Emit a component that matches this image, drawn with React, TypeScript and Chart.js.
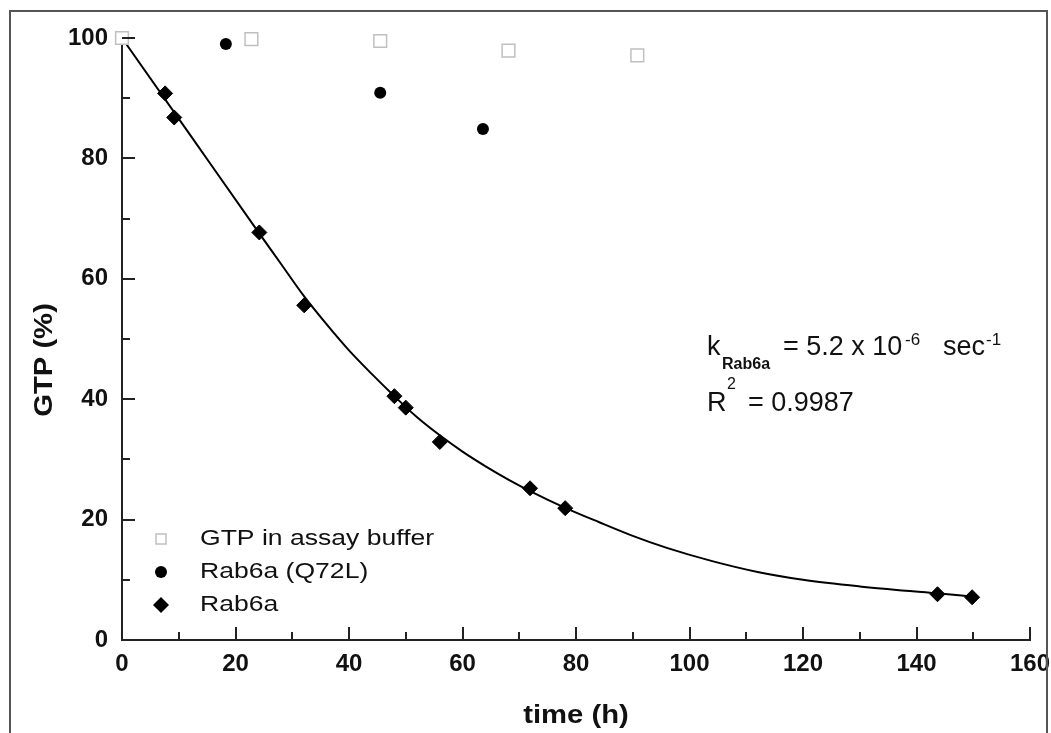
import React, { useEffect, useRef } from 'react';
import { Chart, registerables } from 'chart.js';

Chart.register(...registerables);

// ---- data ----
const bufferT = [0, 22.8, 45.5, 68.1, 90.8];
const bufferY = [100, 99.8, 99.5, 97.9, 97.1];

const q72lT = [18.3, 45.5, 63.6];
const q72lY = [99.0, 90.9, 84.9];

const rab6aT = [7.6, 9.2, 24.2, 32.1, 48.0, 50.0, 56.0, 71.9, 78.1, 143.7, 149.8];
const rab6aY = [90.8, 86.8, 67.7, 55.6, 40.5, 38.6, 32.9, 25.2, 21.9, 7.6, 7.1];

// fitted curve
const fitT = [0, 12, 24, 28, 32, 36, 40, 44, 48, 52, 56, 60, 64, 68, 72, 78, 84, 90, 96, 104, 112, 120, 130, 143.6, 150];
const fitY = [100, 83.9, 67.8, 62.5, 57.2, 52.5, 48.1, 44.2, 40.5, 37.0, 34.0, 31.3, 28.9, 26.7, 24.7, 22.0, 19.6, 17.3, 15.3, 13.1, 11.3, 10.0, 8.9, 7.75, 7.2];

const legendLabels = ['GTP in assay buffer', 'Rab6a (Q72L)', 'Rab6a'];
const xTitle = 'time (h)';
const yTitle = 'GTP (%)';
const xTicks = { min: 0, max: 160, step: 20, minor: 10 };
const yTicks = { min: 0, max: 100, step: 20, minor: 10 };

const FONT = '"Liberation Sans", Arial, Helvetica, sans-serif';

function pts(t: number[], y: number[]) {
  return t.map((v, i) => ({ x: v, y: y[i] }));
}

function drawText(
  ctx: CanvasRenderingContext2D,
  s: string,
  x: number,
  y: number,
  font: string,
  align: CanvasTextAlign = 'left',
  baseline: CanvasTextBaseline = 'alphabetic',
  sx = 1,
  rot = 0
) {
  ctx.save();
  ctx.translate(x, y);
  if (rot) ctx.rotate(rot);
  ctx.scale(sx, 1);
  ctx.font = font;
  ctx.textAlign = align;
  ctx.textBaseline = baseline;
  ctx.fillStyle = '#111';
  ctx.fillText(s, 0, 0);
  ctx.restore();
}

export default function App() {
  const ref = useRef<HTMLCanvasElement>(null);

  useEffect(() => {
    const canvas = ref.current!;
    const decor = {
      id: 'decor',
      afterDraw(chart: any) {
        const ctx: CanvasRenderingContext2D = chart.ctx;
        const xs = chart.scales.x;
        const ys = chart.scales.y;
        const area = chart.chartArea;
        ctx.save();
        // outer frame
        ctx.strokeStyle = '#555';
        ctx.lineWidth = 2;
        ctx.strokeRect(10, 11, 1037, 760);

        // inward ticks
        ctx.strokeStyle = '#222';
        ctx.lineWidth = 2;
        ctx.beginPath();
        for (let v = xTicks.min; v <= xTicks.max; v += xTicks.minor) {
          const px = Math.round(xs.getPixelForValue(v));
          const major = v % xTicks.step === 0;
          ctx.moveTo(px, area.bottom);
          ctx.lineTo(px, area.bottom - (major ? 13 : 8));
        }
        for (let v = yTicks.min; v <= yTicks.max; v += yTicks.minor) {
          const py = Math.round(ys.getPixelForValue(v));
          const major = v % yTicks.step === 0;
          ctx.moveTo(area.left, py);
          ctx.lineTo(area.left + (major ? 13 : 8), py);
        }
        ctx.stroke();

        // axis titles
        drawText(ctx, xTitle, (area.left + area.right) / 2, 716, `bold 25px ${FONT}`, 'center', 'middle', 1.17);
        drawText(ctx, yTitle, 45, 360, `bold 25px ${FONT}`, 'center', 'middle', 1.17, -Math.PI / 2);

        // legend
        const rows = [539, 572, 605];
        const mx = 161;
        ctx.strokeStyle = '#c0c0c0';
        ctx.lineWidth = 1.5;
        ctx.fillStyle = '#fff';
        ctx.fillRect(mx - 5, rows[0] - 5, 10, 10);
        ctx.strokeRect(mx - 5, rows[0] - 5, 10, 10);
        ctx.fillStyle = '#000';
        ctx.beginPath();
        ctx.arc(mx, rows[1], 6, 0, Math.PI * 2);
        ctx.fill();
        ctx.beginPath();
        ctx.moveTo(mx - 8, rows[2]);
        ctx.lineTo(mx, rows[2] - 8);
        ctx.lineTo(mx + 8, rows[2]);
        ctx.lineTo(mx, rows[2] + 8);
        ctx.closePath();
        ctx.fill();
        legendLabels.forEach((l, i) => {
          drawText(ctx, l, 200, rows[i], `22.5px ${FONT}`, 'left', 'middle', 1.18);
        });

        // annotation
        drawText(ctx, 'k', 707, 355, `27px ${FONT}`);
        drawText(ctx, 'Rab6a', 722, 369, `bold 16px ${FONT}`);
        drawText(ctx, '= 5.2 x 10', 783, 355, `27px ${FONT}`);
        drawText(ctx, '-6', 905, 345, `17px ${FONT}`);
        drawText(ctx, 'sec', 943, 355, `27px ${FONT}`);
        drawText(ctx, '-1', 986, 345, `17px ${FONT}`);
        drawText(ctx, 'R', 707, 411, `27px ${FONT}`);
        drawText(ctx, '2', 727, 389, `16px ${FONT}`);
        drawText(ctx, '= 0.9987', 748, 411, `27px ${FONT}`);
        ctx.restore();
      },
    };

    const tickFont = { family: FONT, size: 24, weight: 'bold' as const };

    const chart = new Chart(canvas, {
      type: 'scatter',
      data: {
        datasets: [
          {
            label: legendLabels[0],
            data: pts(bufferT, bufferY),
            pointStyle: 'rect',
            pointRadius: 9,
            backgroundColor: '#fff',
            borderColor: '#c0c0c0',
            borderWidth: 1.5,
            clip: false,
          },
          {
            label: legendLabels[1],
            data: pts(q72lT, q72lY),
            pointStyle: 'circle',
            pointRadius: 6,
            backgroundColor: '#000',
            borderColor: '#000',
            borderWidth: 0,
            clip: false,
          },
          {
            label: legendLabels[2],
            data: pts(rab6aT, rab6aY),
            pointStyle: 'rectRot',
            pointRadius: 7.5,
            backgroundColor: '#000',
            borderColor: '#000',
            borderWidth: 1,
            clip: false,
          },
          {
            label: 'fit',
            data: pts(fitT, fitY),
            showLine: true,
            pointRadius: 0,
            borderColor: '#000',
            borderWidth: 2,
            cubicInterpolationMode: 'monotone',
            fill: false,
            clip: false,
          } as any,
        ],
      },
      options: {
        animation: false,
        responsive: false,
        maintainAspectRatio: false,
        layout: { padding: { top: 38, right: 21, left: 0, bottom: 0 } },
        plugins: { legend: { display: false }, tooltip: { enabled: false } },
        scales: {
          x: {
            type: 'linear',
            min: xTicks.min,
            max: xTicks.max,
            ticks: { stepSize: xTicks.step, font: tickFont, color: '#111', padding: 10, autoSkip: false, maxRotation: 0 },
            grid: { display: true, drawOnChartArea: false, drawTicks: false },
            border: { display: true, color: '#222', width: 2 },
            afterFit(s: any) {
              s.height = 93;
              s.paddingLeft = 0;
              s.paddingRight = 0;
            },
          },
          y: {
            type: 'linear',
            min: yTicks.min,
            max: yTicks.max,
            ticks: { stepSize: yTicks.step, font: tickFont, color: '#111', padding: 14, autoSkip: false },
            grid: { display: true, drawOnChartArea: false, drawTicks: false },
            border: { display: true, color: '#222', width: 2 },
            afterFit(s: any) {
              s.width = 122;
              s.paddingTop = 0;
              s.paddingBottom = 0;
            },
          },
        },
      },
      plugins: [decor],
    });
    return () => chart.destroy();
  }, []);

  return (
    <div style={{ position: 'fixed', left: 0, top: 0, width: 1051, height: 733, background: '#fff' }}>
      <canvas ref={ref} width={1051} height={733} style={{ width: 1051, height: 733, display: 'block' }} />
    </div>
  );
}
